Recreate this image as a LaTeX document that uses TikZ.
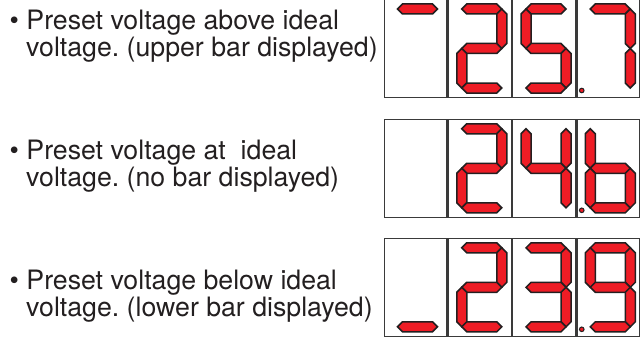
\documentclass[tikz,border=0pt]{standalone}
\usepackage{fontspec}
\setmainfont{TeX Gyre Heros}
\frenchspacing
\definecolor{segred}{HTML}{EE1C25}
\definecolor{ink}{HTML}{231F20}
\definecolor{frame}{HTML}{3A3A3A}
\def\segt{5}
\newcommand\hseg[3]{\draw[seg] (#1,#3) -- ({#1+\segt},{#3-\segt}) -- ({#2-\segt},{#3-\segt}) -- (#2,#3) -- ({#2-\segt},{#3+\segt}) -- ({#1+\segt},{#3+\segt}) -- cycle;}
\newcommand\vseg[3]{\draw[seg] (#1,#2) -- ({#1+\segt},{#2+\segt}) -- ({#1+\segt},{#3-\segt}) -- (#1,#3) -- ({#1-\segt},{#3-\segt}) -- ({#1-\segt},{#2+\segt}) -- cycle;}
\newcommand\SegA{\hseg{14}{54}{9.5}}
\newcommand\SegG{\hseg{14}{54}{49}}
\newcommand\SegD{\hseg{14}{54}{88.5}}
\newcommand\SegF{\vseg{14}{9.5}{49}}
\newcommand\SegB{\vseg{54}{9.5}{49}}
\newcommand\SegE{\vseg{14}{49}{88.5}}
\newcommand\SegC{\vseg{54}{49}{88.5}}
\newcommand\DecPt{\draw[dp] (5.5,91) circle (2.3);}
\begin{document}
\begin{tikzpicture}[x=1pt,y=-1pt,
  seg/.style={fill=segred,draw=ink,line width=1.5pt,line join=miter},
  dp/.style={fill=segred,draw=ink,line width=1pt},
  cellbox/.style={draw=frame,line width=1.2pt,fill=white},
  txt/.style={anchor=base west,inner sep=0pt,text=ink,font=\fontsize{26.7}{28}\selectfont}]
\useasboundingbox (0,0) rectangle (642,337);
% texts
\node[txt] (t1a) at (9.5,29.3) {• Preset voltage above ideal};
\node[txt] (t1b) at (26,56.7) {voltage. (upper bar displayed)};
\node[txt] (t2a) at (9.5,159.3) {• Preset voltage at~ ideal};
\node[txt] (t2b) at (26,186.7) {voltage. (no bar displayed)};
\node[txt] (t3a) at (9.5,289.3) {• Preset voltage below ideal};
\node[txt] (t3b) at (26,316.7) {voltage. (lower bar displayed)};
% display frames
\foreach \top in {-0.5,119.3,238.3}{
  \foreach \xl in {383.5,447.75,512,576.25}{
    \draw[cellbox] ({\xl+0.8},\top) rectangle ({\xl+64.25-0.8},{\top+98});
  }
}
% display 1: upper bar, 25.7
\begin{scope}[shift={(383.5,-0.5)}]\SegA\end{scope}
\begin{scope}[shift={(447.75,-0.5)}]\SegA\SegB\SegG\SegE\SegD\end{scope}
\begin{scope}[shift={(512,-0.5)}]\SegA\SegF\SegG\SegC\SegD\end{scope}
\begin{scope}[shift={(576.25,-0.5)}]\SegA\SegB\SegC\DecPt\end{scope}
% display 2: 24.6
\begin{scope}[shift={(447.75,119.3)}]\SegA\SegB\SegG\SegE\SegD\end{scope}
\begin{scope}[shift={(512,119.3)}]\SegF\SegB\SegG\SegC\end{scope}
\begin{scope}[shift={(576.25,119.3)}]\SegF\SegG\SegE\SegD\SegC\DecPt\end{scope}
% display 3: lower bar, 23.9
\begin{scope}[shift={(383.5,238.3)}]\SegD\end{scope}
\begin{scope}[shift={(447.75,238.3)}]\SegA\SegB\SegG\SegE\SegD\end{scope}
\begin{scope}[shift={(512,238.3)}]\SegA\SegB\SegG\SegC\SegD\end{scope}
\begin{scope}[shift={(576.25,238.3)}]\SegA\SegF\SegB\SegG\SegC\SegD\DecPt\end{scope}
\end{tikzpicture}
\end{document}
